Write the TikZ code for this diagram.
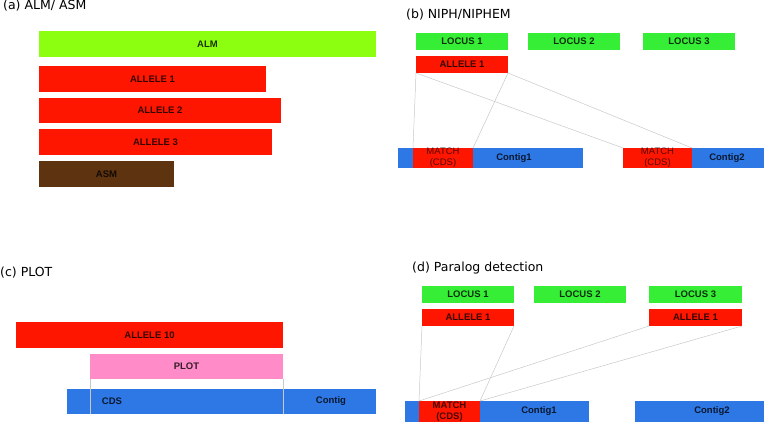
\documentclass[tikz,border=0pt]{standalone}
\usepackage{fontspec}
\setmainfont{DejaVu Sans}
\newfontfamily\labfont{Liberation Sans}
\definecolor{almgreen}{HTML}{8CFF10}
\definecolor{locgreen}{HTML}{36EE36}
\definecolor{allred}{HTML}{FF1600}
\definecolor{cblue}{HTML}{2E78E6}
\definecolor{plotpink}{HTML}{FF8CC8}
\definecolor{asmbrown}{HTML}{5E3410}
\definecolor{linegray}{HTML}{C8C8C8}
\tikzset{
  bar/.style={anchor=north west, inner sep=0pt, outer sep=0pt, draw=none,
    font=\labfont\fontsize{9.5}{11}\selectfont\bfseries, text opacity=0.8},
  lab/.style={inner sep=0pt, font=\labfont\fontsize{9.5}{11}\selectfont\bfseries, text opacity=0.8},
  matchlab/.style={inner sep=0pt, align=center, font=\labfont\fontsize{9.5}{11}\selectfont, text opacity=0.65},
  title/.style={anchor=base west, inner sep=0pt, font=\fontsize{12.5}{14}\selectfont},
  link/.style={draw=linegray, line width=0.5pt},
}
\begin{document}
\begin{tikzpicture}[x=1pt,y=-1pt]
\useasboundingbox (0,0) rectangle (764,422);
% (a)
\node[title] (ta) at (3,10) {(a) ALM/ ASM};
\node[bar, fill=almgreen, minimum width=337pt, minimum height=26pt] (alm) at (39,31) {ALM};
\node[bar, fill=allred, minimum width=227pt, minimum height=26pt] (a1) at (39,66) {ALLELE 1};
\node[bar, fill=allred, minimum width=242pt, minimum height=25pt] (a2) at (39,98) {ALLELE 2};
\node[bar, fill=allred, minimum width=233pt, minimum height=26pt] (a3) at (39,129) {ALLELE 3};
\node[bar, fill=asmbrown, minimum width=135pt, minimum height=26pt] (asm) at (39,161) {ASM};
% (b)
\node[title] (tb) at (406,19) {(b) NIPH/NIPHEM};
\node[bar, fill=locgreen, minimum width=92pt, minimum height=17pt] (bl1) at (416,33) {LOCUS 1};
\node[bar, fill=locgreen, minimum width=92pt, minimum height=17pt] (bl2) at (528,33) {LOCUS 2};
\node[bar, fill=locgreen, minimum width=92pt, minimum height=17pt] (bl3) at (643,33) {LOCUS 3};
\node[bar, fill=allred, minimum width=92pt, minimum height=17pt] (ba1) at (416,56) {ALLELE 1};
\node[bar, fill=cblue, minimum width=185pt, minimum height=20pt] (bc1) at (398,148) {};
\node[bar, fill=allred, minimum width=60pt, minimum height=20pt] (bm1) at (413,148) {};
\node[matchlab] (bm1t) at (bm1.center) {MATCH\\(CDS)};
\node[lab] (bc1t) at (514,158) {Contig1};
\node[bar, fill=cblue, minimum width=141pt, minimum height=20pt] (bc2) at (623,148) {};
\node[bar, fill=allred, minimum width=69pt, minimum height=20pt] (bm2) at (623,148) {};
\node[matchlab] (bm2t) at (bm2.center) {MATCH\\(CDS)};
\node[lab] (bc2t) at (727,158) {Contig2};
\draw[link] (ba1.south west) -- (bm1.north west);
\draw[link] (ba1.south east) -- (bm1.north east);
\draw[link] (ba1.south west) -- (bm2.north west);
\draw[link] (ba1.south east) -- (bm2.north east);
% (c)
\node[title] (tc) at (0,277) {(c) PLOT};
\node[bar, fill=allred, minimum width=267pt, minimum height=26pt] (c10) at (16,322) {ALLELE 10};
\node[bar, fill=plotpink, minimum width=193pt, minimum height=25pt] (cplot) at (90,354) {PLOT};
\node[bar, fill=cblue, minimum width=309pt, minimum height=25pt] (ccont) at (67,389) {};
\node[lab] (ccds) at (112,401.5) {CDS};
\node[lab] (ccontt) at (331,401.5) {Contig};
\coordinate (cl1) at (cplot.south west |- ccont.south);
\coordinate (cl2) at (cplot.south east |- ccont.south);
\draw[link, line width=0.4pt] (cplot.south west) -- (cl1);
\draw[link, line width=0.4pt] (cplot.south east) -- (cl2);
% (d)
\node[title] (td) at (412,272) {(d) Paralog detection};
\node[bar, fill=locgreen, minimum width=92pt, minimum height=17pt] (dl1) at (422,286) {LOCUS 1};
\node[bar, fill=locgreen, minimum width=92pt, minimum height=17pt] (dl2) at (534,286) {LOCUS 2};
\node[bar, fill=locgreen, minimum width=93pt, minimum height=17pt] (dl3) at (649,286) {LOCUS 3};
\node[bar, fill=allred, minimum width=92pt, minimum height=17pt] (da1) at (422,309) {ALLELE 1};
\node[bar, fill=allred, minimum width=93pt, minimum height=17pt] (da3) at (649,309) {ALLELE 1};
\node[bar, fill=cblue, minimum width=184pt, minimum height=21pt] (dc1) at (405,401) {};
\node[bar, fill=allred, minimum width=61pt, minimum height=21pt] (dm) at (419,401) {};
\node[matchlab, font=\labfont\fontsize{9.5}{11}\selectfont\bfseries, text opacity=0.72] (dmt) at (dm.center) {MATCH\\(CDS)};
\node[lab] (dc1t) at (539,411) {Contig1};
\node[bar, fill=cblue, minimum width=129pt, minimum height=21pt] (dc2) at (635,401) {};
\node[lab] (dc2t) at (712,411) {Contig2};
\draw[link] (da1.south west) -- (dm.north west);
\draw[link] (da1.south east) -- (dm.north east);
\draw[link] (da3.south west) -- (dm.north west);
\draw[link] (da3.south east) -- (dm.north east);
\end{tikzpicture}
\end{document}
